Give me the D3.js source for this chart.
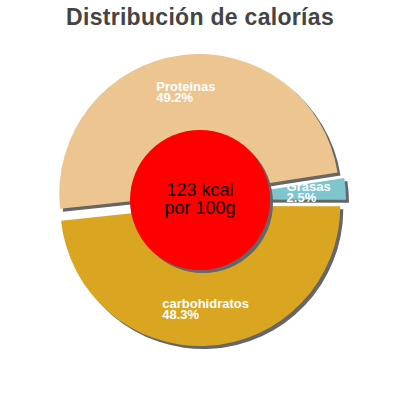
<!DOCTYPE html>
<html>
<head>
<meta charset="utf-8">
<script src="https://cdn.jsdelivr.net/npm/d3@7"></script>
<style>
  body { margin: 0; background: #fff; }
  svg { display: block; }
</style>
</head>
<body>
<div id="chart"></div>
<script>
var categories = ["Proteinas", "Grasas", "carbohidratos"];
var values = [49.2, 2.5, 48.3];
var percentLabels = ["49.2%", "2.5%", "48.3%"];
var colors = ["#ecc591", "#7ec5cd", "#daa520"];
var centerLines = ["123 kcal", "por 100g"];
var title = "Distribución de calorías";

var width = 400, height = 400;
var cx = 200, cy = 200;
var outerR = 140, innerR = 70;
var explode = 6, shadowOff = 3;
var labelR = 103;

var svg = d3.select('#chart').append('svg')
    .attr('width', width)
    .attr('height', height);

svg.append('text')
    .attr('x', cx)
    .attr('y', 25)
    .attr('text-anchor', 'middle')
    .style('font-family', '"Liberation Sans", Arial, sans-serif')
    .style('font-size', '23px')
    .style('font-weight', 'bold')
    .style('letter-spacing', '0.3px')
    .style('fill', '#444')
    .text(title);

var data = categories.map(function(c, i) {
    return {name: c, value: values[i], pct: percentLabels[i], color: colors[i]};
});

var deg = Math.PI / 180;
var pie = d3.pie()
    .sort(null)
    .value(function(d) { return d.value; })
    .startAngle(-96 * deg)
    .endAngle(264 * deg);

var arc = d3.arc().innerRadius(0).outerRadius(outerR);

var g = svg.append('g')
    .attr('transform', `translate(${cx}, ${cy})`);

// draw order so the protein shadow sits over the grasas label like the original
var arcs = pie(data);
var order = [2, 1, 0];

order.forEach(function(i) {
    var d = arcs[i];
    var mid = (d.startAngle + d.endAngle) / 2;
    var ox = Math.sin(mid) * explode, oy = -Math.cos(mid) * explode;

    var slice = g.append('g')
        .attr('transform', `translate(${ox}, ${oy})`);

    slice.append('path')
        .attr('d', arc(d))
        .attr('transform', `translate(${shadowOff}, ${shadowOff})`)
        .attr('fill', '#666');

    slice.append('path')
        .attr('d', arc(d))
        .attr('fill', d.data.color);

    var lx = Math.sin(mid) * labelR, ly = -Math.cos(mid) * labelR;
    var label = slice.append('text')
        .style('font-family', '"Liberation Sans", Arial, sans-serif')
        .style('font-size', '13px')
        .style('font-weight', 'bold')
        .style('fill', '#fff');
    var t1 = label.append('tspan').attr('y', ly - 1).text(d.data.name);
    var t2 = label.append('tspan').attr('y', ly + 10).text(d.data.pct);
    var w = Math.max(t1.node().getComputedTextLength(), t2.node().getComputedTextLength());
    t1.attr('x', lx - w / 2);
    t2.attr('x', lx - w / 2);
});

// centre disc
g.append('circle')
    .attr('cx', shadowOff)
    .attr('cy', shadowOff)
    .attr('r', innerR)
    .attr('fill', '#666');

g.append('circle')
    .attr('r', innerR)
    .attr('fill', '#ff0000');

g.selectAll('.center-text')
    .data(centerLines)
    .enter()
    .append('text')
    .attr('class', 'center-text')
    .attr('text-anchor', 'middle')
    .attr('y', function(d, i) { return -4 + i * 18; })
    .style('font-family', '"Liberation Sans", Arial, sans-serif')
    .style('font-size', '18px')
    .style('fill', '#000')
    .text(function(d) { return d; });
</script>
</body>
</html>
